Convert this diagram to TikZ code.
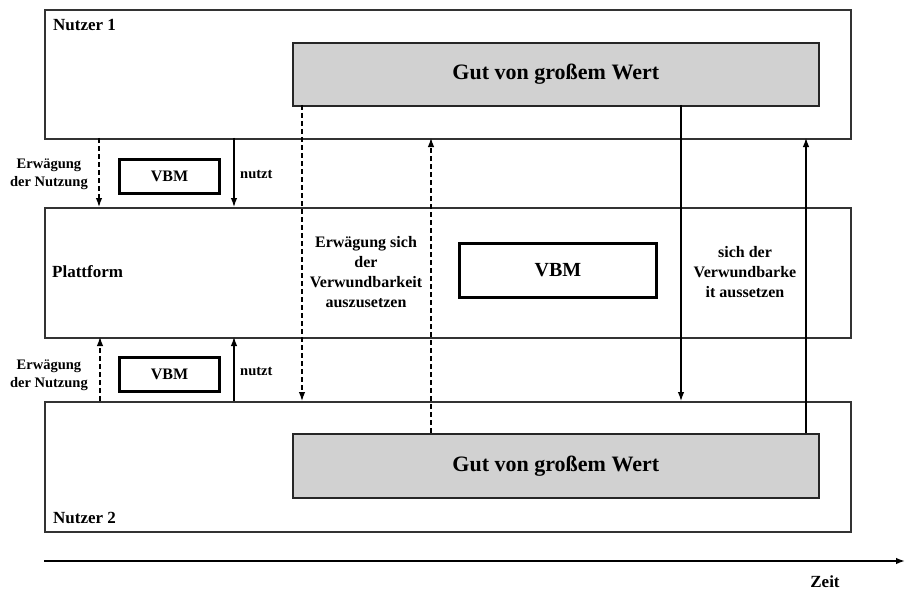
\documentclass[tikz,border=0pt]{standalone}
\usepackage{fontspec}
\setmainfont{Liberation Serif}
\usetikzlibrary{arrows.meta}
\begin{document}
\begin{tikzpicture}[x=1pt,y=-1pt,
  lane/.style={draw=black!80,line width=1.6pt,inner sep=0pt,anchor=north west},
  good/.style={draw=black!85,fill=black!18,line width=1.6pt,inner sep=0pt,anchor=north west},
  vbm/.style={draw=black,line width=3pt,inner sep=0pt,anchor=north west,font=\bfseries\fontsize{16}{18}\selectfont},
  lbl/.style={font=\bfseries\fontsize{14.5}{18}\selectfont,align=center,inner sep=0pt},
  ttl/.style={anchor=west,font=\bfseries\fontsize{17}{19}\selectfont,inner sep=0pt},
  gtxt/.style={font=\bfseries\fontsize{22}{24}\selectfont},
  arr/.style={-{Latex[length=9pt,width=6.5pt]},line width=1.2pt},
  darr/.style={arr,dash pattern=on 5pt off 3pt}]
\useasboundingbox (0,0) rectangle (907,591);
% lanes
\node[lane,minimum width=806,minimum height=129] (u1) at (44,9) {};
\node[lane,minimum width=806,minimum height=130] (pf) at (44,207) {};
\node[lane,minimum width=806,minimum height=130] (u2) at (44,401) {};
\node[ttl] (u1t) at (53,25) {Nutzer 1};
\node[ttl] (pft) at (52,272) {Plattform};
\node[ttl] (u2t) at (53,518) {Nutzer 2};
% goods
\node[good,minimum width=526,minimum height=63] (g1) at (292,42) {};
\node[gtxt] at (g1.center) {Gut von großem Wert};
\node[good,minimum width=526,minimum height=64] (g2) at (292,433) {};
\node[gtxt] at (g2.center) {Gut von großem Wert};
% VBM boxes
\node[vbm,minimum width=100,minimum height=34] (v1) at (118,158) {VBM};
\node[vbm,minimum width=100,minimum height=34] (v2) at (118,356) {VBM};
\node[vbm,minimum width=197,minimum height=54,font=\bfseries\fontsize{20}{22}\selectfont] (v3) at (458,242) {VBM};
% left labels
\node[lbl,anchor=east] (e1) at (88,174) {Erwägung\\der Nutzung};
\node[lbl,anchor=east] (e2) at (88,375) {Erwägung\\der Nutzung};
\node[lbl,anchor=west] (n1) at (240,175) {nutzt};
\node[lbl,anchor=west] (n2) at (240,372) {nutzt};
% arrow coordinates
\coordinate (a1s) at (99,138); \coordinate (a1e) at (99,207);
\coordinate (b1s) at (234,138); \coordinate (b1e) at (234,207);
\coordinate (a2s) at (100,401); \coordinate (a2e) at (100,337);
\coordinate (b2s) at (234,401); \coordinate (b2e) at (234,337);
\draw[darr] (a1s) -- (a1e);
\draw[arr] (b1s) -- (b1e);
\draw[darr] (a2s) -- (a2e);
\draw[arr] (b2s) -- (b2e);
% long arrows
\coordinate (c1s) at (302,105); \coordinate (c1e) at (302,401);
\coordinate (c2s) at (431,433); \coordinate (c2e) at (431,138);
\coordinate (c3s) at (681,105); \coordinate (c3e) at (681,401);
\coordinate (c4s) at (806,433); \coordinate (c4e) at (806,138);
\draw[darr] (c1s) -- (c1e);
\draw[darr] (c2s) -- (c2e);
\draw[arr] (c3s) -- (c3e);
\draw[arr] (c4s) -- (c4e);
\node[lbl,font=\bfseries\fontsize{16}{20}\selectfont] (t1) at (366,272) {Erwägung sich\\der\\Verwundbarkeit\\auszusetzen};
\node[lbl,font=\bfseries\fontsize{16}{20}\selectfont] (t2) at (745,272) {sich der\\Verwundbarke\\it aussetzen};
% time axis
\coordinate (z0) at (44,561); \coordinate (z1) at (905,561);
\draw[arr,line width=1.5pt] (z0) -- (z1);
\node[font=\bfseries\fontsize{17}{19}\selectfont] (zt) at (825,582) {Zeit};
\end{tikzpicture}
\end{document}
